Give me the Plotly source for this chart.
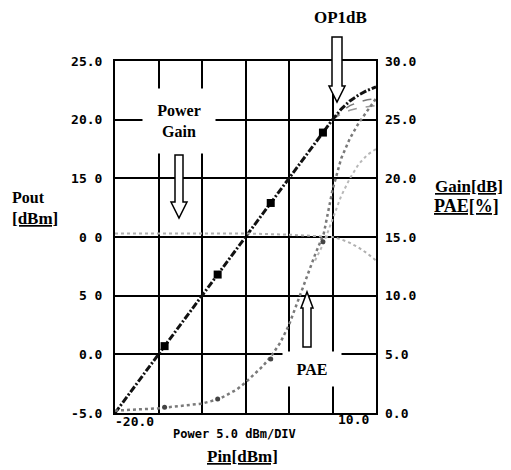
import plotly.graph_objects as go

# ---------------- data ----------------
pin = [-20, -17.5, -15, -12.5, -10, -7.5, -5, -2.5, 0, 2.5, 5, 6, 7, 8, 9, 10]
pout_main = [-5.0, -2.5, 0.0, 2.5, 5.0, 7.5, 10.0, 12.5, 15.0, 17.6, 20.0, 20.9, 21.6, 22.1, 22.5, 22.8]

pin_comp = [5, 6, 7, 8, 9, 10]
pout_b = [20.0, 20.7, 21.2, 21.5, 21.7, 21.8]
pout_c = [20.0, 20.5, 20.8, 21.0, 21.1, 21.2]

pin_mk = [-14.3, -8.2, -2.1, 3.9]
pout_mk = [0.7, 6.8, 12.9, 18.9]
pae_mk = [0.5, 1.2, 4.6, 14.6]

pae_pin = [-20, -17.5, -15, -12.5, -10, -8, -6, -5, -4, -3, -2, -1, 0, 1, 2, 3, 4, 5, 6, 7, 8, 9, 10]
pae = [0.2, 0.3, 0.4, 0.6, 0.8, 1.2, 2.0, 2.6, 3.3, 4.0, 4.9, 6.0, 7.5, 9.5, 11.5, 13.5, 15.3, 19.0, 21.7, 23.4, 24.7, 25.8, 26.8]

pae2_pin = [3, 4, 5, 6, 7, 8, 9, 10]
pae2 = [13.0, 14.5, 16.5, 18.5, 20.0, 21.2, 22.0, 22.5]

gain_pin = [-20, -15, -10, -5, 0, 3, 5, 6, 7, 8, 9, 10]
gain = [15.3, 15.3, 15.3, 15.3, 15.2, 15.1, 15.0, 14.8, 14.5, 14.1, 13.6, 13.0]

left_vals = [-5, 0, 5, 10, 15, 20, 25]
left_text = ["-5.0", "0.0", "5 0", "0 0", "15 0", "20.0", "25.0"]
right_vals = [0, 5, 10, 15, 20, 25, 30]
right_text = ["0.0", "5.0", "10.0", "15.0", "20.0", "25.0", "30.0"]

# ---------------- geometry ----------------
OFF = 8                      # default page body margin
W, H = 511 - OFF, 470 - OFF  # figure size so it ends at the window edge
PL, PR, PT, PB = 115, 376, 61, 413   # plot area in window pixels
L, R, T, B = PL - OFF, PR - OFF, PT - OFF, PB - OFF


def px(x):
    return (x - PL) / (PR - PL)


def py(y):
    return (PB - y) / (PB - PT)


mono = "DejaVu Sans Mono"
serif = "Liberation Serif"

fig = go.Figure()

fig.add_trace(go.Scatter(x=gain_pin, y=gain, yaxis="y2", mode="lines",
                         line=dict(color="#b0b0b0", width=2, dash="dot"), showlegend=False))
fig.add_trace(go.Scatter(x=pae2_pin, y=pae2, yaxis="y2", mode="lines",
                         line=dict(color="#b8b8b8", width=2, dash="dot"), showlegend=False))
fig.add_trace(go.Scatter(x=pae_pin, y=pae, yaxis="y2", mode="lines",
                         line=dict(color="#7a7a7a", width=2.5, dash="dot"), showlegend=False))
fig.add_trace(go.Scatter(x=pin_mk, y=pae_mk, yaxis="y2", mode="markers",
                         marker=dict(color="#444", size=5, symbol="circle"), showlegend=False))
fig.add_trace(go.Scatter(x=pin_comp, y=pout_c, mode="lines",
                         line=dict(color="#999", width=1.5, dash="dash"), showlegend=False))
fig.add_trace(go.Scatter(x=pin_comp, y=pout_b, mode="lines",
                         line=dict(color="#777", width=1.5, dash="dash"), showlegend=False))
fig.add_trace(go.Scatter(x=pin, y=pout_main, mode="lines",
                         line=dict(color="#111", width=3, dash="7px,2px,2px,2px"), showlegend=False))
fig.add_trace(go.Scatter(x=pin_mk, y=pout_mk, mode="markers",
                         marker=dict(color="#000", size=8, symbol="square"), showlegend=False))

fig.update_layout(
    width=W, height=H,
    margin=dict(l=L, r=W - R, t=T, b=H - B),
    paper_bgcolor="white", plot_bgcolor="white",
    showlegend=False,
    xaxis=dict(range=[-20, 10], dtick=5, tick0=-20, showgrid=True, gridcolor="#000", gridwidth=2,
               showline=True, linecolor="#000", linewidth=2, mirror=True,
               showticklabels=False, ticks="", zeroline=False, fixedrange=True),
    yaxis=dict(range=[-5, 25], tickvals=left_vals, ticktext=left_text, showgrid=True,
               gridcolor="#000", gridwidth=2, showline=True, linecolor="#000", linewidth=2,
               mirror=True, ticks="", zeroline=False, ticklabelstandoff=8,
               tickfont=dict(family=mono, size=13, color="#000", weight="bold")),
    yaxis2=dict(range=[0, 30], tickvals=right_vals, ticktext=right_text, overlaying="y",
                side="right", showgrid=False, zeroline=False, ticks="", ticklabelstandoff=8,
                tickfont=dict(family=mono, size=13, color="#000", weight="bold")),
)

ann = []


def text(x, y, s, size=15, family=serif, bold=True, xanchor="center", under=False, **kw):
    f = dict(family=family, size=size, color="#000")
    if bold:
        f["weight"] = "bold"
    if under:
        f["lineposition"] = "under"
    ann.append(dict(x=px(x), y=py(y), xref="paper", yref="paper", text=s, showarrow=False,
                    xanchor=xanchor, yanchor="middle", font=f, **kw))


# x tick labels & axis captions (positions in window pixels)
text(113, 421, "-20.0", size=13, family=mono, xanchor="left")
text(371, 419, "10.0", size=13, family=mono, xanchor="right")
text(234, 434, "Power 5.0 dBm/DIV", size=12, family=mono)
text(242, 456, "Pin[dBm]", size=17, under=True)
text(28, 197, "Pout", size=16)
text(35, 218, "[dBm]", size=17, under=True)
text(469, 186, "Gain[dB]", size=17, under=True)
text(466, 206, "PAE[%]", size=18, under=True)
text(340, 17, "OP1dB", size=17)

# white boxes with labels
ann.append(dict(x=px(179), y=py(121), xref="paper", yref="paper", text="Power<br>Gain",
                showarrow=False, bgcolor="white", width=70, height=62, align="center",
                font=dict(family=serif, size=16, color="#000", weight="bold"),
                xanchor="center", yanchor="middle"))
ann.append(dict(x=px(312), y=py(369), xref="paper", yref="paper", text="PAE",
                showarrow=False, bgcolor="white", width=56, height=32,
                font=dict(family=serif, size=16, color="#000", weight="bold"),
                xanchor="center", yanchor="middle"))
fig.update_layout(annotations=ann)


def arrow(cx, y0, yh, ytip, sw, hw):
    # hollow block arrow in paper coordinates built from window-pixel positions
    pts = [(cx - sw, y0), (cx - sw, yh), (cx - hw, yh), (cx, ytip),
           (cx + hw, yh), (cx + sw, yh), (cx + sw, y0)]
    path = "M " + " L ".join(f"{px(a):.5f},{py(b):.5f}" for a, b in pts) + " Z"
    return dict(type="path", xref="paper", yref="paper", path=path,
                line=dict(color="#000", width=1.5), fillcolor="white", layer="above")


fig.update_layout(shapes=[
    arrow(179, 155, 202, 218, 4, 8),
    arrow(337, 37, 86, 102, 5, 8),
    arrow(307, 347, 308, 292, 4, 6),
])

fig.write_html("out.html")
